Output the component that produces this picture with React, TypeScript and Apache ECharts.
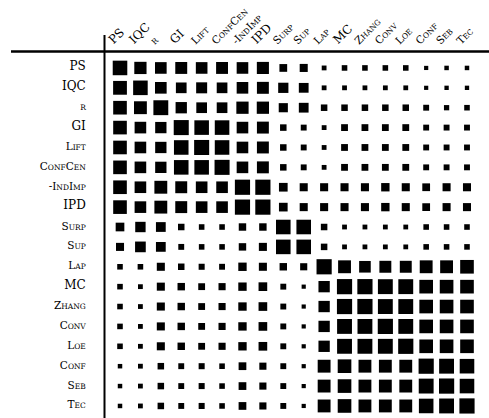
import React, { useEffect, useRef } from "react";
import * as echarts from "echarts";

// Measures (row = measure, column = measure), in matrix order
const measures = ["PS", "IQC", "r", "GI", "Lift", "ConfCen", "-IndImp", "IPD", "Surp", "Sup", "Lap", "MC", "Zhang", "Conv", "Loe", "Conf", "Seb", "Tec"];

// Similarity values (0..1), one array per row, columns in the order of `measures`
const rowPS      = [0.94, 0.79, 0.75, 0.77, 0.75, 0.77, 0.75, 0.78, 0.50, 0.52, 0.31, 0.36, 0.36, 0.36, 0.36, 0.27, 0.29, 0.29];
const rowIQC     = [0.89, 0.94, 0.75, 0.69, 0.71, 0.69, 0.75, 0.77, 0.66, 0.63, 0.31, 0.31, 0.31, 0.31, 0.31, 0.27, 0.28, 0.28];
const rowR       = [0.88, 0.83, 0.96, 0.73, 0.69, 0.69, 0.79, 0.79, 0.59, 0.63, 0.42, 0.42, 0.42, 0.42, 0.42, 0.38, 0.34, 0.36];
const rowGI      = [0.88, 0.75, 0.73, 0.97, 0.94, 0.94, 0.75, 0.77, 0.42, 0.38, 0.31, 0.44, 0.44, 0.44, 0.44, 0.38, 0.38, 0.38];
const rowLift    = [0.88, 0.75, 0.73, 0.94, 0.97, 0.94, 0.75, 0.77, 0.42, 0.38, 0.31, 0.44, 0.44, 0.44, 0.44, 0.38, 0.38, 0.38];
const rowConfCen = [0.88, 0.75, 0.73, 0.94, 0.94, 0.97, 0.75, 0.77, 0.42, 0.38, 0.31, 0.44, 0.44, 0.44, 0.44, 0.38, 0.38, 0.38];
const rowIndImp  = [0.88, 0.75, 0.83, 0.77, 0.75, 0.75, 0.98, 0.98, 0.56, 0.52, 0.52, 0.52, 0.52, 0.54, 0.52, 0.50, 0.52, 0.52];
const rowIPD     = [0.88, 0.75, 0.83, 0.77, 0.75, 0.75, 0.98, 0.98, 0.56, 0.52, 0.52, 0.52, 0.52, 0.54, 0.52, 0.50, 0.52, 0.52];
const rowSurp    = [0.56, 0.67, 0.63, 0.42, 0.36, 0.36, 0.48, 0.48, 0.94, 0.94, 0.42, 0.31, 0.31, 0.31, 0.31, 0.36, 0.36, 0.36];
const rowSup     = [0.52, 0.69, 0.63, 0.38, 0.36, 0.36, 0.48, 0.52, 0.94, 0.94, 0.42, 0.31, 0.31, 0.31, 0.31, 0.36, 0.36, 0.36];
const rowLap     = [0.36, 0.36, 0.52, 0.42, 0.39, 0.38, 0.54, 0.52, 0.48, 0.46, 0.98, 0.83, 0.75, 0.77, 0.77, 0.83, 0.83, 0.88];
const rowMC      = [0.36, 0.31, 0.52, 0.48, 0.44, 0.46, 0.54, 0.56, 0.38, 0.27, 0.73, 0.98, 0.98, 0.96, 0.96, 0.88, 0.88, 0.88];
const rowZhang   = [0.36, 0.31, 0.52, 0.48, 0.44, 0.46, 0.54, 0.56, 0.38, 0.27, 0.73, 0.98, 0.98, 0.96, 0.96, 0.88, 0.88, 0.88];
const rowConv    = [0.36, 0.31, 0.52, 0.48, 0.44, 0.46, 0.54, 0.56, 0.38, 0.27, 0.73, 0.96, 0.96, 0.98, 0.96, 0.88, 0.88, 0.88];
const rowLoe     = [0.36, 0.31, 0.52, 0.48, 0.44, 0.46, 0.54, 0.56, 0.38, 0.27, 0.73, 0.96, 0.96, 0.96, 0.98, 0.88, 0.88, 0.88];
const rowConf    = [0.29, 0.31, 0.42, 0.38, 0.39, 0.36, 0.50, 0.46, 0.38, 0.27, 0.83, 0.88, 0.83, 0.83, 0.83, 0.98, 0.96, 0.94];
const rowSeb     = [0.29, 0.31, 0.42, 0.38, 0.39, 0.36, 0.50, 0.46, 0.38, 0.27, 0.83, 0.88, 0.83, 0.83, 0.83, 0.96, 0.98, 0.94];
const rowTec     = [0.29, 0.31, 0.42, 0.38, 0.39, 0.36, 0.50, 0.46, 0.38, 0.27, 0.83, 0.88, 0.83, 0.83, 0.83, 0.94, 0.96, 0.98];

const matrix = [rowPS, rowIQC, rowR, rowGI, rowLift, rowConfCen, rowIndImp, rowIPD, rowSurp, rowSup, rowLap, rowMC, rowZhang, rowConv, rowLoe, rowConf, rowSeb, rowTec];

const FONT = "DejaVu Serif";
const SIZE_ALLCAPS = 12;
const SIZE_CAP = 10.5;
const SIZE_SMALL = 7.5;

// split a name into small-caps segments: lowercase letters become small capitals
function segments(name: string): { text: string; size: number }[] {
  if (name === name.toUpperCase()) return [{ text: name, size: SIZE_ALLCAPS }];
  const out: { text: string; size: number }[] = [];
  for (const ch of name) {
    const small = ch >= "a" && ch <= "z";
    const size = small ? SIZE_SMALL : SIZE_CAP;
    const c = small ? ch.toUpperCase() : ch;
    const last = out[out.length - 1];
    if (last && last.size === size) last.text += c;
    else out.push({ text: c, size });
  }
  return out;
}

function smallCaps(name: string): string {
  return segments(name)
    .map((s) => `{${s.size === SIZE_ALLCAPS ? "B" : s.size === SIZE_CAP ? "b" : "s"}|${s.text}}`)
    .join("");
}

const rich = {
  B: { fontFamily: FONT, fontSize: SIZE_ALLCAPS, color: "#000", verticalAlign: "bottom", lineHeight: 14 },
  b: { fontFamily: FONT, fontSize: SIZE_CAP, color: "#000", verticalAlign: "bottom", lineHeight: 14 },
  s: { fontFamily: FONT, fontSize: SIZE_SMALL, color: "#000", verticalAlign: "bottom", lineHeight: 14 },
};

const rules = [
  { type: "line", shape: { x1: 11, y1: 51.5, x2: 489, y2: 51.5 }, style: { stroke: "#000", lineWidth: 2.5 } },
  { type: "line", shape: { x1: 104.5, y1: 35, x2: 104.5, y2: 418 }, style: { stroke: "#000", lineWidth: 2 } },
];

export default function App() {
  const ref = useRef<HTMLDivElement>(null);
  useEffect(() => {
    document.body.style.margin = "0";
    const chart = echarts.init(ref.current!, null, { renderer: "svg" });
    const data: number[][] = [];
    matrix.forEach((row, i) => row.forEach((v, j) => data.push([j, i, v])));
    chart.setOption({
      animation: false,
      grid: { left: 109.8, right: 11.8, top: 58, bottom: 2.1 },
      xAxis: {
        type: "category",
        data: measures,
        position: "top",
        axisLine: { show: false },
        axisTick: { show: false },
        splitLine: { show: false },
        axisLabel: { show: false },
      },
      yAxis: {
        type: "category",
        data: measures,
        inverse: true,
        axisLine: { show: false },
        axisTick: { show: false },
        splitLine: { show: false },
        axisLabel: {
          interval: 0,
          margin: 24,
          padding: [0, 0, 6, 0],
          formatter: (v: string) => smallCaps(v),
          rich,
        },
      },
      graphic: rules,
      series: [
        {
          type: "scatter",
          symbol: "rect",
          symbolSize: (val: number[]) => val[2] * 15.5,
          itemStyle: { color: "#000", opacity: 1 },
          emphasis: { disabled: true },
          data,
        },
      ],
    });
    // rotated column headers (plain text pieces), placed at the x axis' category positions
    const ctx = document.createElement("canvas").getContext("2d")!;
    const ang = Math.PI / 4;
    const headers: any[] = [];
    measures.forEach((name, j) => {
      const px = chart.convertToPixel({ xAxisIndex: 0 }, j) as number;
      let along = 0;
      const x0 = px - 5;
      const y0 = 46;
      segments(name).forEach((seg) => {
        ctx.font = `${seg.size}px "${FONT}"`;
        const w = ctx.measureText(seg.text).width;
        headers.push({
          type: "text",
          x: x0 + along * Math.cos(ang),
          y: y0 - along * Math.sin(ang),
          rotation: ang,
          style: {
            text: seg.text,
            font: `${seg.size}px "${FONT}"`,
            textAlign: "left",
            textVerticalAlign: "bottom",
            fill: "#000",
          },
        });
        along += w;
      });
    });
    chart.setOption({ graphic: [...rules, ...headers] });
    return () => chart.dispose();
  }, []);
  return <div ref={ref} style={{ width: 489, height: 418 }} />;
}
